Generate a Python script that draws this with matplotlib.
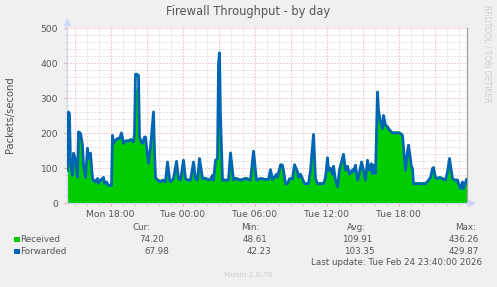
import matplotlib
matplotlib.use("Agg")
import matplotlib.pyplot as plt
from matplotlib.patches import Rectangle
import numpy as np

# ---------------- data ----------------
# sample times, minutes since Monday 00:00
minutes = [865, 870, 875, 880, 890, 895, 905, 915, 920, 930, 940, 945, 955, 965, 970, 980,
           990, 995, 1005, 1015, 1020, 1030, 1045, 1050, 1060, 1070, 1085, 1090, 1095, 1105,
           1115, 1125, 1135, 1145, 1155, 1170, 1180, 1190, 1195, 1200, 1205, 1210, 1215, 1220,
           1225, 1230, 1240, 1250, 1255, 1260, 1270, 1280, 1290, 1295, 1300, 1305, 1315, 1330,
           1340, 1355, 1365, 1375, 1380, 1395, 1410, 1420, 1430, 1445, 1455, 1465, 1480, 1495,
           1505, 1515, 1525, 1540, 1555, 1570, 1580, 1590, 1595, 1605, 1615, 1620, 1625, 1630,
           1640, 1655, 1670, 1680, 1695, 1705, 1730, 1755, 1780, 1795, 1810, 1830, 1850, 1870,
           1880, 1890, 1910, 1915, 1930, 1940, 1945, 1955, 1965, 1975, 1990, 2000, 2015, 2020,
           2030, 2040, 2050, 2070, 2080, 2095, 2105, 2115, 2130, 2145, 2155, 2165, 2170, 2180,
           2190, 2195, 2205, 2215, 2225, 2245, 2255, 2265, 2275, 2290, 2295, 2305, 2315, 2320,
           2335, 2345, 2355, 2365, 2375, 2385, 2390, 2395, 2405, 2415, 2420, 2430, 2440, 2445,
           2455, 2465, 2475, 2490, 2505, 2520, 2530, 2540, 2545, 2555, 2565, 2570, 2585, 2590,
           2595, 2615, 2635, 2655, 2670, 2680, 2690, 2695, 2705, 2715, 2725, 2740, 2755, 2765,
           2775, 2790, 2800, 2815, 2820, 2830, 2840, 2845, 2860]

forwarded = [94, 261, 255, 114, 80, 143, 125, 74, 204, 200, 166, 109, 74, 157, 129, 143,
             71, 66, 61, 71, 57, 66, 74, 57, 61, 51, 51, 194, 171, 180,
             185, 185, 201, 171, 178, 178, 182, 178, 175, 200, 369, 369, 366, 366,
             190, 180, 171, 189, 189, 161, 114, 161, 230, 261, 150, 74, 66, 61,
             66, 61, 118, 70, 61, 71, 120, 70, 66, 123, 70, 66, 66, 118,
             70, 66, 128, 71, 71, 66, 69, 80, 66, 123, 128, 400, 430, 250,
             66, 66, 66, 144, 66, 71, 66, 71, 66, 149, 66, 71, 68, 68,
             96, 68, 83, 74, 110, 108, 94, 56, 56, 70, 70, 110, 90, 74,
             83, 70, 56, 56, 94, 197, 70, 56, 56, 56, 74, 130, 94, 100,
             83, 106, 66, 47, 96, 140, 94, 106, 83, 96, 90, 109, 66, 74,
             118, 94, 66, 123, 94, 113, 85, 109, 85, 318, 266, 232, 213, 251,
             223, 218, 209, 201, 201, 201, 199, 194, 161, 94, 147, 166, 104, 100,
             56, 56, 56, 56, 66, 74, 100, 102, 74, 70, 74, 70, 66, 90,
             128, 70, 66, 66, 56, 42, 61, 42, 68]

received = [100, 262, 258, 120, 88, 148, 130, 82, 208, 205, 172, 116, 80, 162, 135, 148,
            78, 72, 68, 76, 63, 72, 80, 62, 66, 56, 56, 200, 178, 186,
            190, 192, 206, 178, 184, 184, 188, 184, 180, 210, 320, 330, 340, 330,
            196, 186, 178, 195, 195, 168, 120, 168, 236, 265, 156, 80, 72, 68,
            72, 68, 124, 76, 68, 76, 125, 76, 72, 128, 76, 72, 72, 124,
            76, 72, 133, 77, 77, 72, 75, 86, 72, 130, 134, 405, 436, 260,
            72, 72, 72, 150, 72, 77, 72, 77, 72, 154, 72, 76, 74, 74,
            102, 74, 89, 80, 116, 114, 100, 62, 62, 76, 76, 116, 96, 80,
            88, 76, 62, 62, 100, 200, 76, 62, 62, 62, 80, 136, 100, 106,
            89, 112, 72, 52, 102, 146, 100, 112, 89, 102, 96, 114, 72, 80,
            124, 100, 72, 128, 100, 118, 90, 114, 92, 285, 270, 238, 220, 256,
            228, 224, 214, 207, 207, 207, 205, 200, 168, 110, 152, 172, 110, 106,
            62, 62, 62, 62, 72, 80, 106, 108, 80, 76, 80, 76, 72, 96,
            134, 76, 72, 72, 62, 49, 67, 49, 74]

tick_hours = [18, 24, 30, 36, 42]
tick_labels = ["Mon 18:00", "Tue 00:00", "Tue 06:00", "Tue 12:00", "Tue 18:00"]
y_ticks = [0, 100, 200, 300, 400, 500]

legend_names = ["Received", "Forwarded"]
legend_colors = ["#00CC00", "#0066B3"]
stat_headers = ["Cur:", "Min:", "Avg:", "Max:"]
stats = [["74.20", "48.61", "109.91", "436.26"],
         ["67.98", "42.23", "103.35", "429.87"]]
title = "Firewall Throughput - by day"
ylabel = "Packets/second"
last_update = "Last update: Tue Feb 24 23:40:00 2026"
footer = "Munin 2.0.76"
watermark = "RRDTOOL / TOBI OETIKER"
t_start_min, t_end_min = 860, 2860

# ---------------- figure ----------------
W, H = 497, 287
fig = plt.figure(figsize=(W / 100, H / 100), dpi=100)
fig.patch.set_facecolor("#F0F0F0")
TXT = "#555555"

def fx(px):
    return px / W

def fy(py):
    return 1 - py / H

ax_l, ax_r, ax_t, ax_b = 66.5, 466.5, 28.3, 203.3
ax = fig.add_axes([fx(ax_l), fy(ax_b), (ax_r - ax_l) / W, (ax_b - ax_t) / H])
ax.set_facecolor("white")

t = np.array(minutes) / 60.0
x0, x1 = t_start_min / 60.0, t_end_min / 60.0
ax.set_xlim(x0, x1)
ax.set_ylim(0, 500)

# grid (minor gray, major red)
dash = (0, (1, 2))
MINC, MAJC = "#CDCDCD", "#E7A3A3"
for h in np.arange(np.ceil(x0), x1 + 1e-9, 1.0):
    if h % 3 != 0:
        ax.axvline(h, color=MINC, lw=0.72, ls=dash, zorder=0.5)
for v in range(20, 500, 20):
    if v % 100 != 0:
        ax.axhline(v, color=MINC, lw=0.72, ls=dash, zorder=0.5)
for h in np.arange(np.ceil(x0 / 3) * 3, x1 + 1e-9, 3.0):
    ax.axvline(h, color=MAJC, lw=0.72, ls=dash, zorder=0.6)
for v in y_ticks[1:]:
    ax.axhline(v, color=MAJC, lw=0.72, ls=dash, zorder=0.6, clip_on=False)

ax.fill_between(t, received, 0, color="#00CC00", lw=0, zorder=2)
ax.plot(t, forwarded, color="#0066B3", lw=2.0, zorder=3)

# spines
ax.spines["top"].set_visible(False)
ax.spines["left"].set_color("#CFD6F8")
ax.spines["bottom"].set_color("#CFD6F8")
ax.spines["right"].set_color("#A0A0A0")
for s in ["left", "bottom", "right"]:
    ax.spines[s].set_linewidth(0.9)
ax.spines["bottom"].set_zorder(4)

# axis extensions with arrows
ax.plot([x0, x0], [500, 515], color="#CFD6F8", lw=0.9, clip_on=False, zorder=4)
ax.plot([x0], [517], marker="^", ms=4, color="#CFD6F8", clip_on=False, zorder=4)
ax.plot([x1, x1 + 0.3], [0, 0], color="#CFD6F8", lw=0.9, clip_on=False, zorder=4)
ax.plot([x1 + 0.35], [0], marker=">", ms=4, color="#CFD6F8", clip_on=False, zorder=4)

# ticks
ax.set_xticks(tick_hours)
ax.set_xticklabels(tick_labels)
ax.set_xticks(np.arange(np.ceil(x0), x1, 1.0), minor=True)
ax.tick_params(axis="x", which="major", length=2.5, width=0.8, color=MAJC,
               labelsize=6.6, labelcolor=TXT, pad=2.5)
ax.tick_params(axis="x", which="minor", length=2, width=0.8, color=MINC)
ax.set_yticks(y_ticks)
ax.set_yticks(range(0, 501, 20), minor=True)
ax.tick_params(axis="y", which="major", length=2, width=0.8, color=MAJC,
               labelsize=6.6, labelcolor=TXT, pad=4)
ax.tick_params(axis="y", which="minor", length=1.5, width=0.8, color=MINC)
ax.tick_params(right=False, top=False)

# texts
fig.text(fx(248.5), fy(12), title, ha="center", va="center", fontsize=8.3, color=TXT)
fig.text(fx(10.5), fy(115), ylabel, ha="center", va="center", rotation=90,
         fontsize=7.2, color=TXT)
fig.text(fx(486.5), fy(5), watermark, ha="center", va="top", rotation=-90,
         fontsize=5.5, color="#CFCFCF")

hdr_right = [150.7, 259, 366, 476]
val_right = [[164.3, 267, 372.7, 479.3], [169.3, 271, 375, 479.3]]
row_y = [239.3, 251]
for hx, htxt in zip(hdr_right, stat_headers):
    fig.text(fx(hx), fy(227), htxt, ha="right", va="center", fontsize=6.3, color=TXT)
for i, name in enumerate(legend_names):
    fig.patches.append(Rectangle((fx(14), fy(row_y[i] + 3)), 5.5 / W, 5.5 / H,
                                 transform=fig.transFigure, facecolor=legend_colors[i],
                                 edgecolor="none", figure=fig))
    fig.text(fx(20.5), fy(row_y[i]), name, ha="left", va="center", fontsize=6.3, color=TXT)
    for j in range(4):
        fig.text(fx(val_right[i][j]), fy(row_y[i]), stats[i][j], ha="right", va="center",
                 fontsize=6.3, color=TXT)
fig.text(fx(482.3), fy(262.7), last_update, ha="right", va="center", fontsize=6.3, color=TXT)
fig.text(fx(248), fy(275), footer, ha="center", va="center", fontsize=5.3, color="#CCCCCC")

fig.savefig("out.png", dpi=100, facecolor=fig.get_facecolor())
